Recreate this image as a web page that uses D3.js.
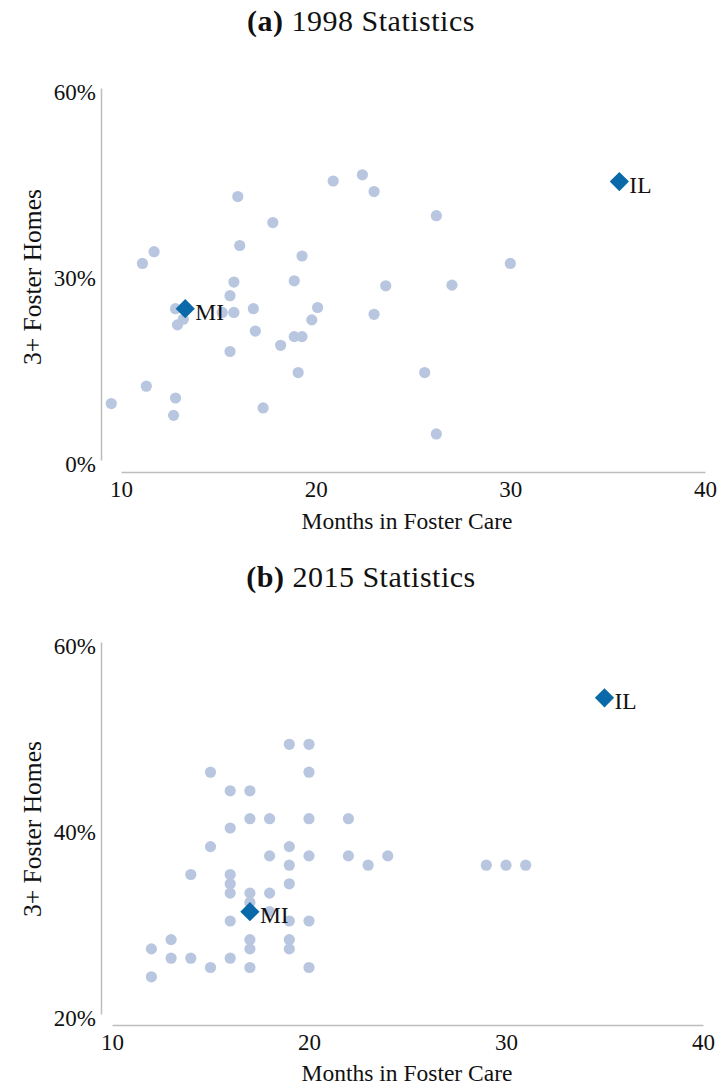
<!DOCTYPE html>
<html>
<head>
<meta charset="utf-8">
<script src="https://cdn.jsdelivr.net/npm/d3@7"></script>
<style>
  body { margin: 0; background: #fff; }
  svg { display: block; }
</style>
</head>
<body>
<svg id="chart" width="719" height="1087"></svg>
<script>
// Shared x tick values (months)
const xTickValues = [10, 20, 30, 40];

// Panel (a): 1998
const yTicks1998 = [0, 30, 60];
const months1998 = [16.0, 20.9, 22.4, 23.0, 17.8, 16.1, 11.7, 11.1, 19.3, 18.9,
                    15.8, 23.6, 15.6, 12.8, 15.2, 15.8, 16.8, 20.1, 23.0, 19.8,
                    13.2, 12.9, 16.9, 18.9, 19.3, 18.2, 15.6, 19.1, 11.3, 12.8,
                    9.5, 12.7, 17.3, 26.2, 30.0, 27.0, 25.6, 26.2];
const pct1998 = [42.5, 45.0, 46.0, 43.3, 38.3, 34.6, 33.6, 31.7, 32.9, 28.9,
                 28.7, 28.1, 26.5, 24.4, 23.8, 23.8, 24.4, 24.6, 23.5, 22.6,
                 22.7, 21.8, 20.8, 19.9, 19.9, 18.5, 17.5, 14.1, 11.9, 10.0,
                 9.1, 7.2, 8.4, 39.4, 31.7, 28.2, 14.1, 4.2];
const states1998 = ["MI", "IL"];
const stateMonths1998 = [13.3, 35.6];
const statePct1998 = [24.4, 44.9];

// Panel (b): 2015
const yTicks2015 = [20, 40, 60];
const months2015 = [19, 20, 15, 20, 16, 17, 17, 18, 20, 22, 16, 15, 19, 18, 20, 22,
                    24, 19, 23, 29, 30, 31, 14, 16, 16, 19, 16, 17, 18, 17, 18, 16,
                    19, 20, 13, 17, 19, 12, 17, 19, 13, 14, 16, 15, 17, 20, 12];
const pct2015 = [49, 49, 46, 46, 44, 44, 41, 41, 41, 41, 40, 38, 38, 37, 37, 37,
                 37, 36, 36, 36, 36, 36, 35, 35, 34, 34, 33, 33, 33, 32, 31, 30,
                 30, 30, 28, 28, 28, 27, 27, 27, 26, 26, 26, 25, 25, 25, 24];
const states2015 = ["MI", "IL"];
const stateMonths2015 = [17, 35];
const statePct2015 = [31, 54];

const svg = d3.select("#chart");
const serif = "Liberation Serif";
const axisColor = "#bdbdbd";
const dotColor = "#b8c6e0";
const stateColor = "#0a6aa9";

function drawPanel(cfg) {
  const g = svg.append("g");

  // Caption
  const title = g.append("text")
    .attr("x", 361).attr("y", cfg.titleY)
    .attr("text-anchor", "middle")
    .attr("font-family", serif)
    .attr("font-size", 30)
    .attr("letter-spacing", 0.5)
    .attr("fill", "#111");
  title.append("tspan").attr("font-weight", "bold").text(cfg.tag);
  title.append("tspan").text(" " + cfg.title);

  const x = d3.scaleLinear().domain([10, 40]).range(cfg.xRange);
  const y = d3.scaleLinear().domain(cfg.yDomain).range(cfg.yRange);

  // Y axis (offset from x axis)
  const yAxis = g.append("g")
    .attr("transform", `translate(${cfg.yAxisX},0)`)
    .call(d3.axisLeft(y).tickValues(cfg.yTicks).tickSize(0).tickPadding(5)
      .tickFormat(d => d + "%"));
  yAxis.select(".domain").attr("stroke", axisColor).attr("stroke-width", 1.5);
  yAxis.selectAll("text")
    .attr("font-family", serif).attr("font-size", 23)
    .attr("fill", "#111").attr("dy", "0.48em");

  // X axis
  const xAxis = g.append("g")
    .attr("transform", `translate(0,${cfg.xAxisY})`)
    .call(d3.axisBottom(x).tickValues(xTickValues).tickSize(0).tickPadding(9));
  xAxis.select(".domain").attr("stroke", axisColor).attr("stroke-width", 1.5);
  xAxis.selectAll("text")
    .attr("font-family", serif).attr("font-size", 23).attr("fill", "#111");

  // Axis titles
  g.append("text")
    .attr("x", cfg.xTitleX).attr("y", cfg.xTitleY)
    .attr("text-anchor", "middle")
    .attr("font-family", serif).attr("font-size", 23.5).attr("fill", "#111")
    .text("Months in Foster Care");
  g.append("text")
    .attr("transform", `translate(41,${cfg.yTitleY}) rotate(-90)`)
    .attr("text-anchor", "middle")
    .attr("font-family", serif).attr("font-size", 25.5).attr("fill", "#111")
    .text("3+ Foster Homes");

  // All states
  g.append("g").selectAll("circle")
    .data(cfg.months.map((m, i) => ({ m, p: cfg.pct[i] })))
    .join("circle")
    .attr("cx", d => x(d.m))
    .attr("cy", d => y(d.p))
    .attr("r", 5.6)
    .attr("fill", dotColor);

  // Highlighted states
  const hl = cfg.states.map((s, i) => ({ s, m: cfg.stateMonths[i], p: cfg.statePct[i] }));
  const diamond = d3.symbol().type(d3.symbolSquare).size(185);
  g.append("g").selectAll("path")
    .data(hl)
    .join("path")
    .attr("d", diamond)
    .attr("transform", d => `translate(${x(d.m)},${y(d.p)}) rotate(45)`)
    .attr("fill", stateColor);
  g.append("g").selectAll("text")
    .data(hl)
    .join("text")
    .attr("x", d => x(d.m) + 10)
    .attr("y", d => y(d.p) + 11.5)
    .attr("font-family", serif).attr("font-size", 23.5).attr("fill", "#111")
    .text(d => d.s);
}

drawPanel({
  tag: "(a)", title: "1998 Statistics", titleY: 31,
  xRange: [121, 705], yDomain: [0, 60], yRange: [460, 88],
  yTicks: yTicks1998, yAxisX: 101, xAxisY: 472,
  xTitleX: 407, xTitleY: 529, yTitleY: 277,
  months: months1998, pct: pct1998,
  states: states1998, stateMonths: stateMonths1998, statePct: statePct1998
});

drawPanel({
  tag: "(b)", title: "2015 Statistics", titleY: 587,
  xRange: [112, 703], yDomain: [20, 60], yRange: [1014, 642],
  yTicks: yTicks2015, yAxisX: 101, xAxisY: 1025,
  xTitleX: 407, xTitleY: 1081, yTitleY: 829,
  months: months2015, pct: pct2015,
  states: states2015, stateMonths: stateMonths2015, statePct: statePct2015
});
</script>
</body>
</html>
